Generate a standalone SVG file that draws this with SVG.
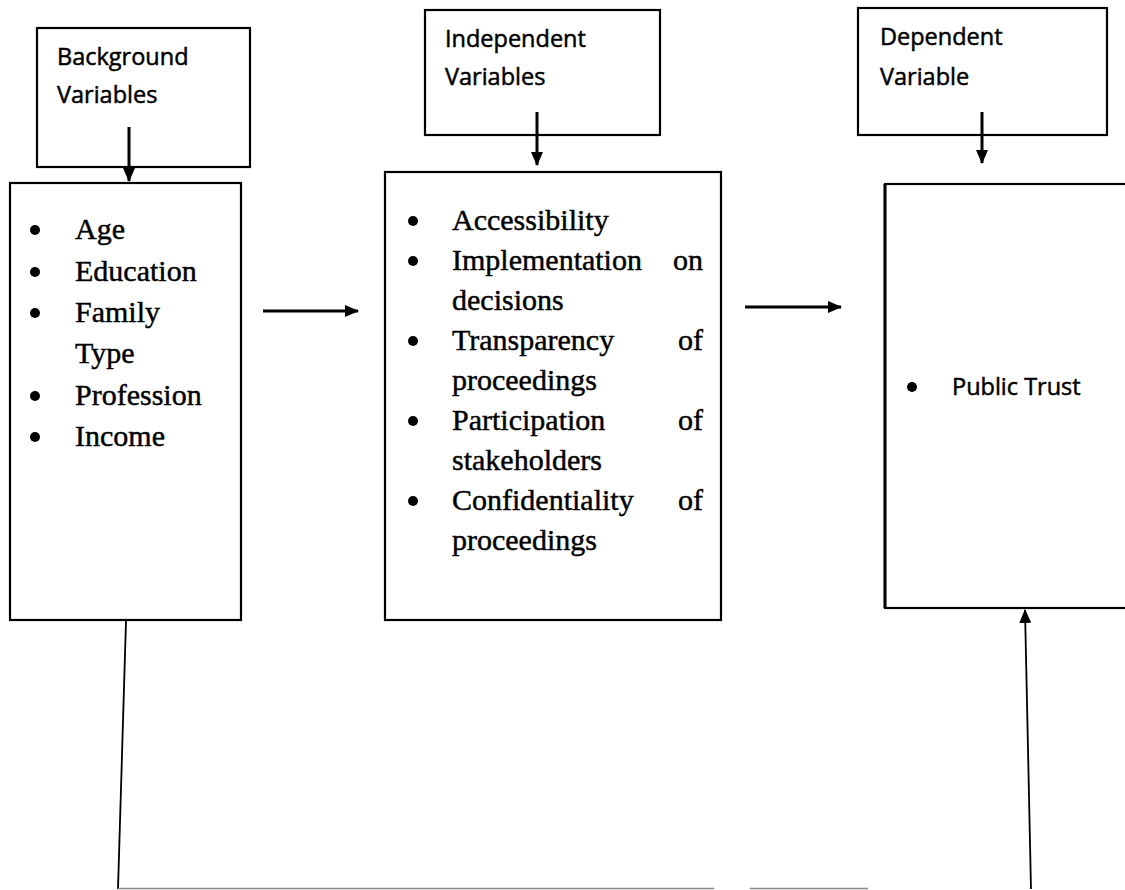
<svg xmlns="http://www.w3.org/2000/svg" width="1125" height="890" viewBox="0 0 1125 890">
<style>
.box{fill:#fff;stroke:#000;stroke-width:2.2}
.hd{font-family:"Open Sans","Liberation Sans",sans-serif;font-size:23.5px;fill:#000;stroke:#000;stroke-width:0.5}
.it{font-family:"Liberation Serif","Times New Roman",serif;font-size:30px;fill:#000;stroke:#000;stroke-width:0.45}
.bul{fill:#000}
.ln{stroke:#000;stroke-width:3;fill:none}
.thin{stroke:#000;stroke-width:1.8;fill:none}
</style>
<defs>
<marker id="ah" markerWidth="14" markerHeight="12" refX="13" refY="6" orient="auto" markerUnits="userSpaceOnUse">
<path d="M0,0 L14,6 L0,12 Z" fill="#000"/>
</marker>
</defs>
<rect width="1125" height="890" fill="#fff"/>
<g id="background-header">
<rect class="box" x="37" y="28" width="213" height="139"/>
<text class="hd" x="57" y="65">Background</text>
<text class="hd" x="57" y="103">Variables</text>
</g>
<g id="independent-header">
<rect class="box" x="425" y="10" width="235" height="125"/>
<text class="hd" x="445" y="47">Independent</text>
<text class="hd" x="445" y="85">Variables</text>
</g>
<g id="dependent-header">
<rect class="box" x="858" y="8" width="249" height="127"/>
<text class="hd" x="880" y="45">Dependent</text>
<text class="hd" x="880" y="85">Variable</text>
</g>
<g id="background-list">
<rect class="box" x="10" y="183" width="231" height="437"/>
<circle class="bul" cx="35" cy="230" r="5"/><text class="it" x="75" y="239">Age</text>
<circle class="bul" cx="35" cy="272" r="5"/><text class="it" x="75" y="281">Education</text>
<circle class="bul" cx="35" cy="313" r="5"/><text class="it" x="75" y="322">Family</text>
<text class="it" x="75" y="363">Type</text>
<circle class="bul" cx="35" cy="396" r="5"/><text class="it" x="75" y="405">Profession</text>
<circle class="bul" cx="35" cy="437" r="5"/><text class="it" x="75" y="446">Income</text>
</g>
<g id="independent-list">
<rect class="box" x="385" y="172" width="336" height="448"/>
<circle class="bul" cx="413" cy="221" r="5"/><text class="it" x="452" y="230">Accessibility</text>
<circle class="bul" cx="413" cy="261" r="5"/><text class="it" x="452" y="270">Implementation</text><text class="it" x="703" y="270" text-anchor="end">on</text>
<text class="it" x="452" y="310">decisions</text>
<circle class="bul" cx="413" cy="341" r="5"/><text class="it" x="452" y="350">Transparency</text><text class="it" x="703" y="350" text-anchor="end">of</text>
<text class="it" x="452" y="390">proceedings</text>
<circle class="bul" cx="413" cy="421" r="5"/><text class="it" x="452" y="430">Participation</text><text class="it" x="703" y="430" text-anchor="end">of</text>
<text class="it" x="452" y="470">stakeholders</text>
<circle class="bul" cx="413" cy="501" r="5"/><text class="it" x="452" y="510">Confidentiality</text><text class="it" x="703" y="510" text-anchor="end">of</text>
<text class="it" x="452" y="550">proceedings</text>
</g>
<g id="public-trust">
<rect class="box" x="885" y="184" width="260" height="424"/>
<line x1="885" y1="184" x2="885" y2="608" stroke="#000" stroke-width="3"/>
<circle class="bul" cx="912" cy="387" r="5"/>
<text class="hd" x="952" y="395">Public Trust</text>
</g>
<g id="connectors">
<line class="ln" x1="129" y1="127" x2="129" y2="181" marker-end="url(#ah)"/>
<line class="ln" x1="537" y1="112" x2="537" y2="165" marker-end="url(#ah)"/>
<line class="ln" x1="982" y1="112" x2="982" y2="163" marker-end="url(#ah)"/>
<line class="ln" x1="263" y1="311" x2="358" y2="311" marker-end="url(#ah)"/>
<line class="ln" x1="745" y1="307" x2="841" y2="307" marker-end="url(#ah)"/>
<line class="thin" x1="126" y1="621" x2="118" y2="889"/>
<line class="thin" x1="1031" y1="889" x2="1025" y2="610" marker-end="url(#ah)"/>
<path d="M118,888.5 H714 M750,888.5 H868" stroke="#888" stroke-width="1.5" fill="none"/>
</g>
</svg>
